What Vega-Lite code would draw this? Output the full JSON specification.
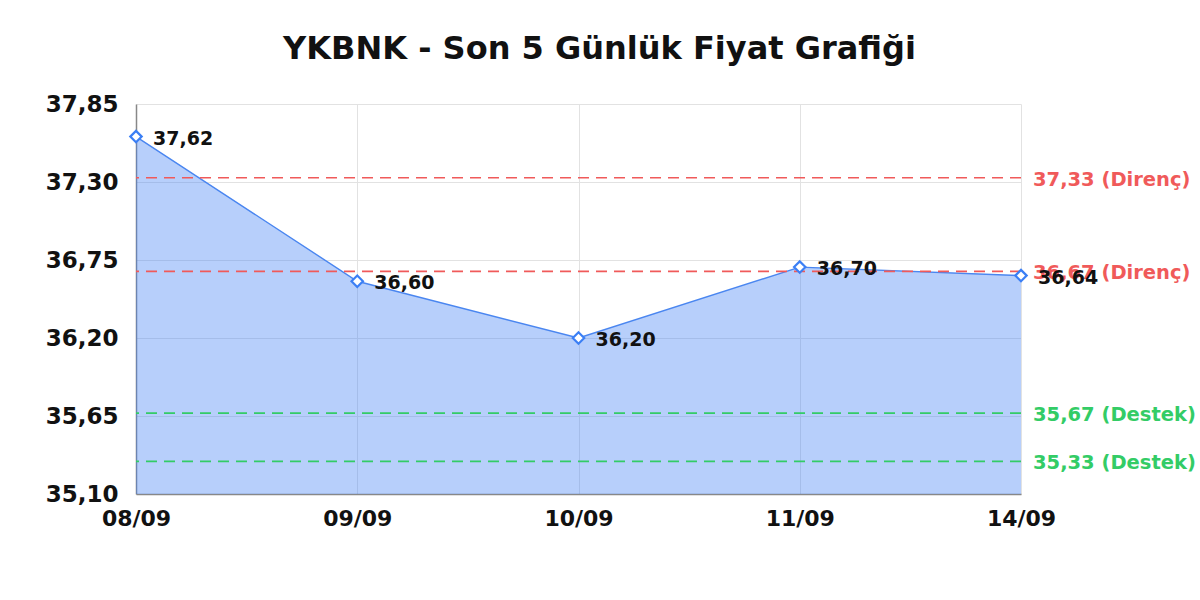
{
  "$schema": "https://vega.github.io/schema/vega-lite/v6.json",
  "autosize": "none",
  "width": 885,
  "height": 390,
  "padding": {"left": 136, "top": 104, "right": 179, "bottom": 106},
  "background": "white",
  "config": {
    "view": {"stroke": null},
    "font": "DejaVu Sans",
    "axis": {"gridColor": "#e2e2e2", "gridWidth": 1, "domainColor": "#888888", "domainWidth": 1.5, "ticks": false, "labelFont": "DejaVu Sans", "labelFontWeight": "bold", "labelColor": "#111111"}
  },
  "title": {"text": "YKBNK - Son 5 Günlük Fiyat Grafiği", "font": "DejaVu Sans", "fontSize": 32, "fontWeight": "bold", "color": "#111111", "baseline": "alphabetic", "offset": 2, "dx": 21},
  "datasets": {
    "prices": [
      {"tarih": "08/09", "fiyat": 37.62},
      {"tarih": "09/09", "fiyat": 36.60},
      {"tarih": "10/09", "fiyat": 36.20},
      {"tarih": "11/09", "fiyat": 36.70},
      {"tarih": "14/09", "fiyat": 36.64}
    ],
    "levels": [
      {"seviye": 37.33, "tur": "Direnç"},
      {"seviye": 36.67, "tur": "Direnç"},
      {"seviye": 35.67, "tur": "Destek"},
      {"seviye": 35.33, "tur": "Destek"}
    ]
  },
  "layer": [
    {
      "data": {"name": "prices"},
      "mark": {"type": "area", "color": "#3b7cf4", "fillOpacity": 0.37, "line": {"color": "#4a86f0", "strokeWidth": 1.4}},
      "encoding": {
        "x": {"field": "tarih", "type": "ordinal", "scale": {"type": "point", "padding": 0}, "sort": null,
              "axis": {"title": null, "labelAngle": 0, "grid": true, "labelPadding": 14, "labelFontSize": 22}},
        "y": {"field": "fiyat", "type": "quantitative", "scale": {"domain": [35.1, 37.85], "zero": false, "nice": false},
              "axis": {"title": null, "values": [35.1, 35.65, 36.2, 36.75, 37.3, 37.85], "labelExpr": "replace(format(datum.value, '.2f'), '.', ',')", "labelPadding": 18, "labelFontSize": 23}},
        "y2": {"datum": 35.1}
      }
    },
    {
      "data": {"name": "levels"},
      "mark": {"type": "rule", "strokeDash": [11, 7], "strokeWidth": 1.6},
      "encoding": {
        "y": {"field": "seviye", "type": "quantitative"},
        "color": {"field": "tur", "type": "nominal", "scale": {"domain": ["Direnç", "Destek"], "range": ["#f05a5a", "#33cc66"]}, "legend": null}
      }
    },
    {
      "data": {"name": "levels"},
      "mark": {"type": "text", "align": "left", "baseline": "middle", "dx": 12, "dy": 2, "fontSize": 19.5, "fontWeight": "bold", "font": "DejaVu Sans"},
      "encoding": {
        "x": {"datum": "14/09"},
        "y": {"field": "seviye", "type": "quantitative"},
        "text": {"field": "etiket"},
        "color": {"field": "tur", "type": "nominal", "legend": null}
      },
      "transform": [{"calculate": "replace(format(datum.seviye, '.2f'), '.', ',') + ' (' + datum.tur + ')'", "as": "etiket"}]
    },
    {
      "data": {"name": "prices"},
      "mark": {"type": "point", "shape": "diamond", "size": 130, "filled": true, "fill": "white", "stroke": "#3b7ff5", "strokeWidth": 2.2, "opacity": 1},
      "encoding": {
        "x": {"field": "tarih", "type": "ordinal", "sort": null},
        "y": {"field": "fiyat", "type": "quantitative"}
      }
    },
    {
      "data": {"name": "prices"},
      "transform": [{"calculate": "replace(format(datum.fiyat, '.2f'), '.', ',')", "as": "etiket"}],
      "mark": {"type": "text", "align": "left", "baseline": "middle", "dx": 17, "dy": 2, "fontSize": 19, "fontWeight": "bold", "font": "DejaVu Sans", "color": "#111111"},
      "encoding": {
        "x": {"field": "tarih", "type": "ordinal", "sort": null},
        "y": {"field": "fiyat", "type": "quantitative"},
        "text": {"field": "etiket"}
      }
    }
  ]
}
